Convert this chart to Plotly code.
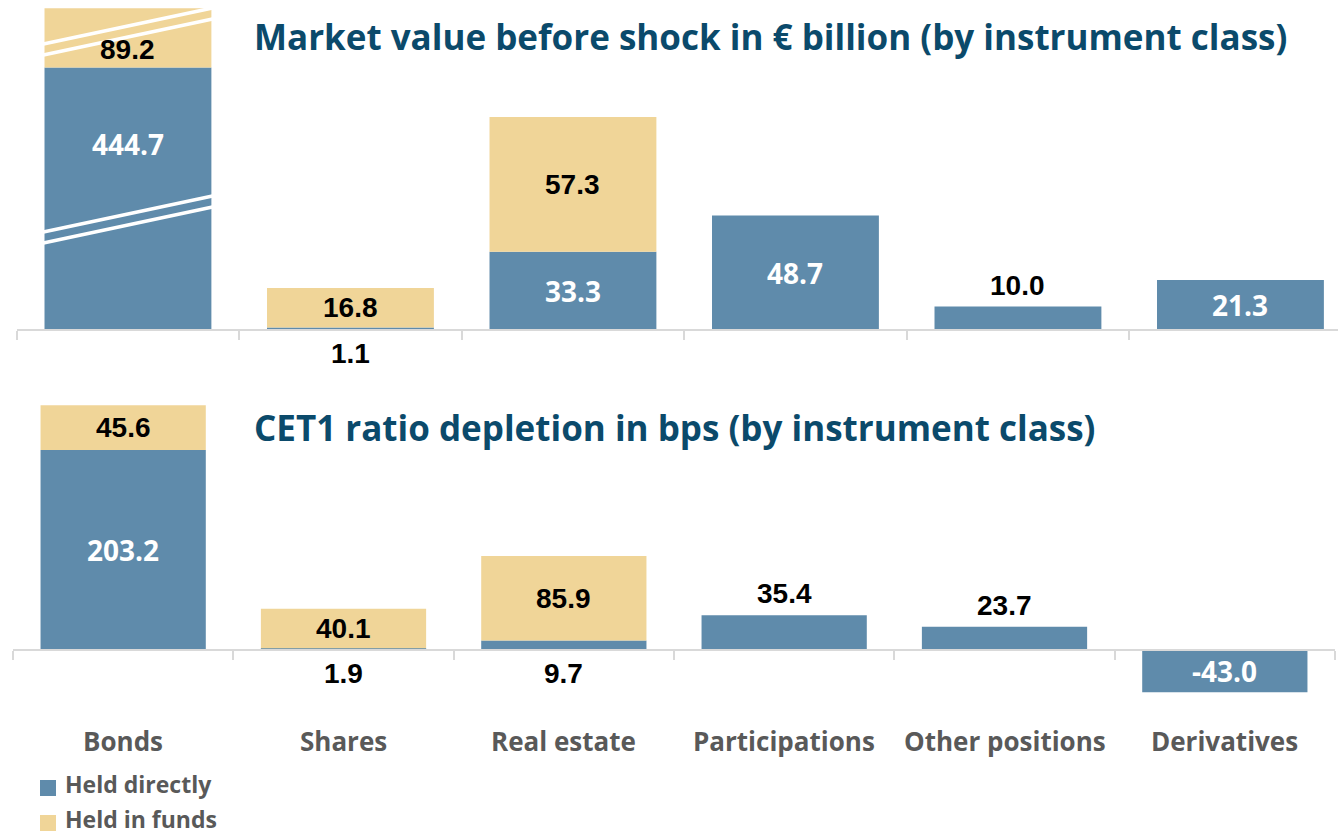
import plotly.graph_objects as go

# ---------------- data ----------------
categories = ["Bonds", "Shares", "Real estate", "Participations", "Other positions", "Derivatives"]
mv_direct = [444.7, 1.1, 33.3, 48.7, 10.0, 21.3]     # market value, held directly (EUR bn)
mv_funds = [89.2, 16.8, 57.3, 0.0, 0.0, 0.0]         # market value, held in funds (EUR bn)
cet1_direct = [203.2, 1.9, 9.7, 35.4, 23.7, -43.0]   # CET1 depletion, held directly (bps)
cet1_funds = [45.6, 40.1, 85.9, 0.0, 0.0, 0.0]       # CET1 depletion, held in funds (bps)
series_names = ["Held directly", "Held in funds"]
titles = ["Market value before shock in \u20ac billion (by instrument class)",
          "CET1 ratio depletion in bps (by instrument class)"]
# value ranges cut out of the (truncated) Bonds bar in the top chart
mv_cut = {"Bonds": [(47, 380), (460, 524)]}

# ---------------- style ----------------
W, H = 1338, 834
BLUE = "#5f8bab"
GOLD = "#f0d598"
SERIES_COLORS = [BLUE, GOLD]
AXIS = "#d9d9d9"
TITLE_C = "#0b4a6b"
CAT_C = "#595959"
mv_direct_pos = ["in", "below", "in", "in", "above", "in"]
cet1_direct_pos = ["in", "below", "below", "above", "above", "in"]

def pxy(p):  # pixel (from top) -> paper fraction
    return 1 - p / H

def pxx(p):
    return p / W

def shown(v, cuts):
    d = v
    for lo, hi in cuts:
        if v > hi:
            d -= (hi - lo)
        elif v > lo:
            d -= (v - lo)
    return d

panels = [
    dict(direct=mv_direct, funds=mv_funds, pos=mv_direct_pos, cuts=mv_cut,
         xd=[16.7, 1338], xr=[-0.5, (1338 - 16.7) / 222.5 - 0.5], yd=[4, 345], zero=330, ppu=2.35,
         xa="x", ya="y", title=titles[0], title_y=37),
    dict(direct=cet1_direct, funds=cet1_funds, pos=cet1_direct_pos, cuts={},
         xd=[13, 1335], xr=[-0.5, 5.5], yd=[395, 710], zero=650, ppu=0.984,
         xa="x2", ya="y2", title=titles[1], title_y=427),
]

fig = go.Figure()
annotations = []
shapes = []
layout_axes = {}

for k, P in enumerate(panels):
    xs = list(range(len(categories)))
    d_h, f_h = [], []
    seg = []
    for i, c in enumerate(categories):
        cuts = P["cuts"].get(c, [])
        a = shown(P["direct"][i], cuts)
        b = shown(P["direct"][i] + P["funds"][i], cuts)
        d_h.append(a)
        f_h.append(b - a)
        seg.append((cuts, a, b))
    fig.add_trace(go.Bar(x=xs, y=d_h, name=series_names[0], marker_color=BLUE, width=0.75,
                         xaxis=P["xa"], yaxis=P["ya"], showlegend=False, hoverinfo="skip",
                         marker_line_width=0))
    fig.add_trace(go.Bar(x=xs, y=f_h, name=series_names[1], marker_color=GOLD, width=0.75,
                         xaxis=P["xa"], yaxis=P["ya"], showlegend=False, hoverinfo="skip",
                         marker_line_width=0))

    # axis geometry
    y0 = -(P["yd"][1] - P["zero"]) / P["ppu"]
    y1 = (P["zero"] - P["yd"][0]) / P["ppu"]
    dom = [pxy(P["yd"][1]), pxy(P["yd"][0])]
    sfx = "" if k == 0 else "2"
    layout_axes["xaxis" + sfx] = dict(
        domain=[pxx(P["xd"][0]), min(1, pxx(P["xd"][1]))], range=P["xr"], anchor="free",
        position=pxy(P["zero"]), showline=True, linecolor=AXIS, linewidth=2,
        ticks="outside", tickvals=[i - 0.5 for i in range(len(categories) + 1)],
        ticklen=9, tickwidth=1.5, tickcolor=AXIS, showticklabels=False,
        showgrid=False, zeroline=False, fixedrange=True)
    layout_axes["yaxis" + sfx] = dict(domain=dom, range=[y0, y1], visible=False,
                                      anchor=P["xa"], fixedrange=True)

    # labels
    lab_black = dict(family="Liberation Sans, Arial", size=28, color="black", weight="bold")
    lab_white = dict(family="Open Sans", size=28, color="white", weight="bold")
    for i, c in enumerate(categories):
        cuts, a, b = seg[i]
        # break positions (display units)
        marks = []
        acc = 0
        for lo, hi in cuts:
            marks.append(lo - acc)
            acc += hi - lo
        # direct segment label
        v = P["direct"][i]
        mode = P["pos"][i]
        if mode == "in":
            pieces = [0] + [m for m in marks if 0 < m < a] + [a]
            best = max(zip(pieces[:-1], pieces[1:]), key=lambda t: abs(t[1] - t[0]))
            annotations.append(dict(x=i, y=(best[0] + best[1]) / 2, xref=P["xa"], yref=P["ya"],
                                    text=f"{v:.1f}", showarrow=False, font=lab_white,
                                    yanchor="middle"))
        elif mode == "above":
            annotations.append(dict(x=i, y=a, xref=P["xa"], yref=P["ya"], text=f"{v:.1f}",
                                    showarrow=False, font=lab_black, yanchor="bottom", yshift=4))
        else:
            annotations.append(dict(x=i, y=0, xref=P["xa"], yref=P["ya"], text=f"{v:.1f}",
                                    showarrow=False, font=lab_black, yanchor="top", yshift=-6))
        # funds segment label
        fv = P["funds"][i]
        if fv > 0:
            pieces = [a] + [m for m in marks if a < m < b] + [b]
            best = max(zip(pieces[:-1], pieces[1:]), key=lambda t: abs(t[1] - t[0]))
            annotations.append(dict(x=i, y=(best[0] + best[1]) / 2, xref=P["xa"], yref=P["ya"],
                                    text=f"{fv:.1f}", showarrow=False, font=lab_black,
                                    yanchor="middle"))
        # break marks
        tilt = 36 / P["ppu"] / 2
        gap = 5.5 / P["ppu"]
        for m in marks:
            for off in (-gap, gap):
                shapes.append(dict(type="line", xref=P["xa"], yref=P["ya"],
                                   x0=i - 0.38, x1=i + 0.38,
                                   y0=m + off - tilt, y1=m + off + tilt,
                                   line=dict(color="white", width=3.5)))

    # panel title
    annotations.append(dict(x=pxx(252), y=pxy(P["title_y"]), xref="paper", yref="paper",
                            text=P["title"], showarrow=False, xanchor="left", yanchor="middle",
                            font=dict(family="Open Sans", size=35, color=TITLE_C, weight="bold")))

# category labels under the bottom panel
for i, c in enumerate(categories):
    annotations.append(dict(x=i, y=pxy(741), xref="x2", yref="paper", text=c, showarrow=False,
                            yanchor="middle",
                            font=dict(family="Open Sans", size=26, color=CAT_C, weight="bold")))

# legend (key squares + series names), bottom-left
for j, (name, col) in enumerate(zip(series_names, SERIES_COLORS)):
    cy = 788 + 35 * j
    shapes.append(dict(type="rect", xref="paper", yref="paper",
                       x0=pxx(40), x1=pxx(56), y0=pxy(cy + 8), y1=pxy(cy - 8),
                       fillcolor=col, line_width=0))
    annotations.append(dict(x=pxx(63), y=pxy(cy - 4), xref="paper", yref="paper", text=name,
                            showarrow=False, xanchor="left", yanchor="middle",
                            font=dict(family="Open Sans", size=23, color=CAT_C, weight="bold")))

fig.update_layout(
    width=W, height=H, margin=dict(l=0, r=0, t=0, b=0),
    paper_bgcolor="white", plot_bgcolor="rgba(0,0,0,0)",
    barmode="relative", bargap=0.25,
    showlegend=False,
    annotations=annotations, shapes=shapes,
    **layout_axes,
)

fig.write_html("out.html", config={"displayModeBar": False},
               post_script="document.body.style.margin='0';document.body.style.overflow='hidden';")
